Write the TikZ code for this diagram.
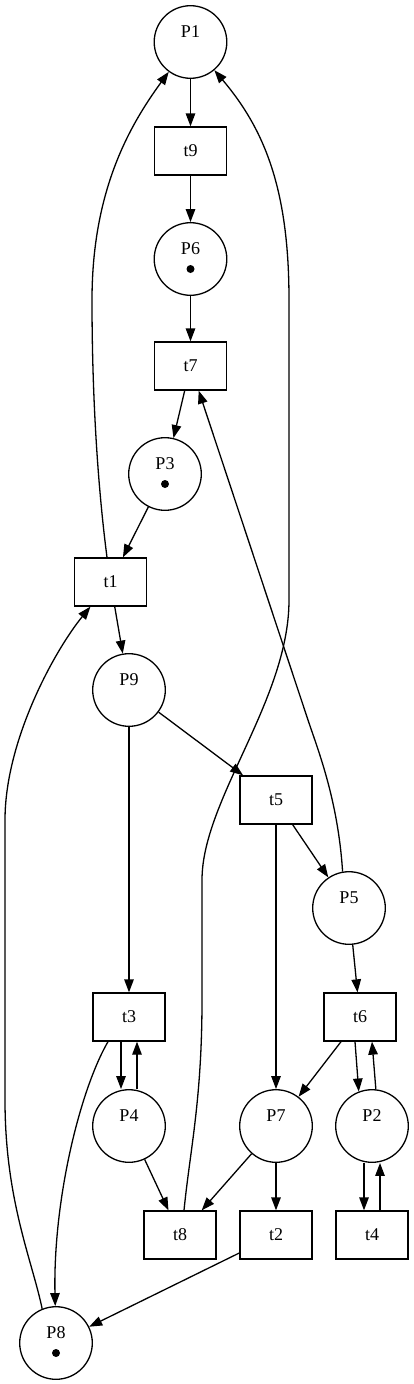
\documentclass[tikz,border=0pt]{standalone}
\usepackage{fontspec}
\setmainfont{Liberation Serif}
\usetikzlibrary{arrows.meta}
\begin{document}
\begin{tikzpicture}[x=1pt,y=-1pt,
  place/.style={circle,draw,line width=1.3pt,minimum size=72.6pt,inner sep=0pt},
  trans/.style={rectangle,draw,line width=1.3pt,minimum width=72pt,minimum height=48pt,inner sep=0pt,font=\fontsize{18}{20}\selectfont},
  plab/.style={inner sep=0pt,font=\fontsize{18}{20}\selectfont},
  tok/.style={circle,fill,minimum size=8pt,inner sep=0pt},
  arc/.style={line width=1.3pt,-{Triangle[length=13pt,width=9.5pt]}}]
\useasboundingbox (0,0) rectangle (413,1384);
% places
\node[place] (P1) at (190.5,42) {};
\node[place] (P6) at (190.5,259) {};
\node[place] (P3) at (165,474) {};
\node[place] (P9) at (129,690) {};
\node[place] (P5) at (349,908) {};
\node[place] (P4) at (129,1126) {};
\node[place] (P7) at (276,1126) {};
\node[place] (P2) at (372,1126) {};
\node[place] (P8) at (56,1343) {};
\foreach \p in {P1,P6,P3,P9,P5,P4,P7,P2,P8}{
  \node[plab] (\p l) at ([yshift=10pt]\p.center) {\p};
}
\node[tok] (tokP6) at ([yshift=-10pt]P6.center) {};
\node[tok] (tokP3) at ([yshift=-10pt]P3.center) {};
\node[tok] (tokP8) at ([yshift=-10pt]P8.center) {};
% transitions
\node[trans] (t9) at (190.5,151) {t9};
\node[trans] (t7) at (190.5,366) {t7};
\node[trans] (t1) at (110.5,582) {t1};
\node[trans] (t5) at (276,800) {t5};
\node[trans] (t3) at (129,1017) {t3};
\node[trans] (t6) at (360,1017) {t6};
\node[trans] (t8) at (180,1235) {t8};
\node[trans] (t2) at (276,1235) {t2};
\node[trans] (t4) at (372,1235) {t4};
% straight arcs
\draw[arc] (P1) -- (t9);
\draw[arc] (t9) -- (P6);
\draw[arc] (P6) -- (t7);
\draw[arc] (t7) -- (P3);
\draw[arc] (P3) -- (t1);
\draw[arc] (t1) -- (P9);
\draw[arc] (P9) -- (t5);
\draw[arc] (P9) -- (t3);
\draw[arc] (t5) -- (P5);
\draw[arc] (t5) -- (P7);
\draw[arc] (P5) -- (t6);
\draw[arc] ([xshift=-8pt]t3.south) -- ([xshift=-8pt]P4.north);
\draw[arc] ([xshift=8pt]P4.north) -- ([xshift=8pt]t3.south);
\draw[arc] (t6) -- (P7);
\draw[arc] ([xshift=-5pt]t6.south) -- (P2.111);
\draw[arc] (P2.84) -- ([xshift=12pt]t6.south);
\draw[arc] (P4) -- (t8);
\draw[arc] (P7) -- (t8);
\draw[arc] (P7) -- (t2);
\draw[arc] ([xshift=-8pt]P2.south) -- ([xshift=-8pt]t4.north);
\draw[arc] ([xshift=8pt]t4.north) -- ([xshift=8pt]P2.south);
\draw[arc] (t2) -- (P8);
% curved arcs
\draw[arc] ([xshift=-3.5pt]t1.north) .. controls (97,480) and (92,390) .. (92,300)
  .. controls (92,190) and (130,125) .. (P1);
\draw[arc] ([xshift=4pt]t8.north) .. controls (190,1150) and (202,1100) .. (202,1000)
  -- (202,880) .. controls (202,800) and (289,700) .. (289,600)
  -- (289,300) .. controls (289,190) and (265,130) .. (P1);
\draw[arc] (P8.112) .. controls (32,1260) and (5,1200) .. (5,1100)
  -- (5,820) .. controls (5,740) and (55,650) .. (t1);
\draw[arc] ([xshift=-21pt]t3.south) .. controls (80,1090) and (53,1200) .. (P8);
\draw[arc] (P5.100) .. controls (338,800) and (318,750) .. (308,720) -- (t7);
\end{tikzpicture}
\end{document}
